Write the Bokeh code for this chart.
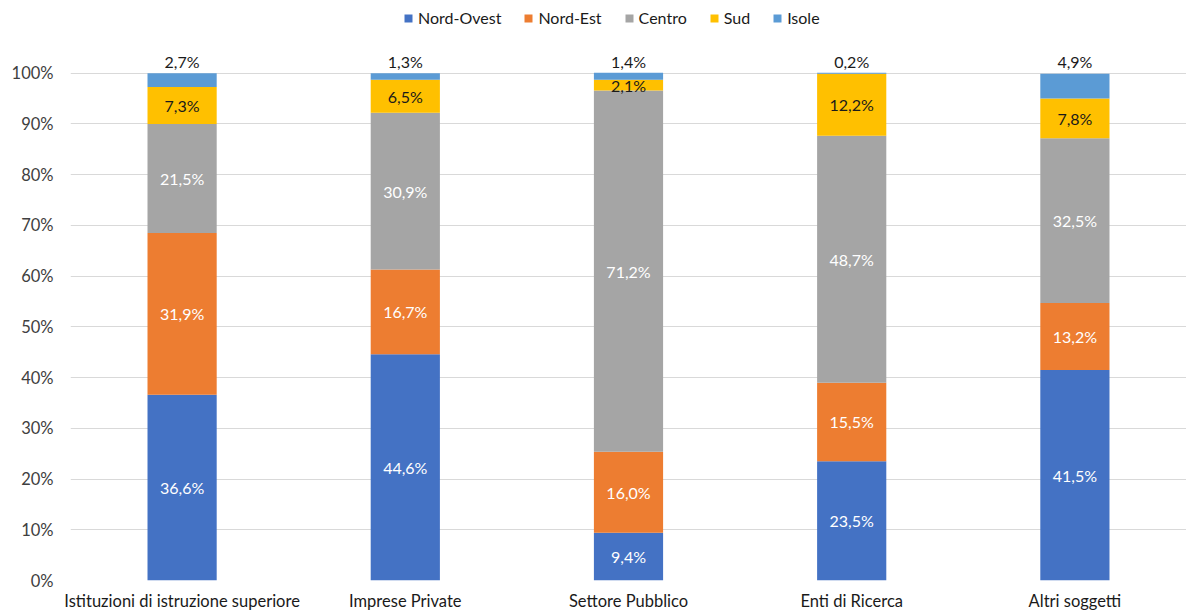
from bokeh.plotting import figure
from bokeh.models import ColumnDataSource, FixedTicker, NumeralTickFormatter
from bokeh.core.properties import value
from bokeh.embed import file_html
from bokeh.resources import INLINE

categories = ["Istituzioni di istruzione superiore", "Imprese Private",
              "Settore Pubblico", "Enti di Ricerca", "Altri soggetti"]
regions = ["Nord-Ovest", "Nord-Est", "Centro", "Sud", "Isole"]
nord_ovest = [36.6, 44.6, 9.4, 23.5, 41.5]
nord_est = [31.9, 16.7, 16.0, 15.5, 13.2]
centro = [21.5, 30.9, 71.2, 48.7, 32.5]
sud = [7.3, 6.5, 2.1, 12.2, 7.8]
isole = [2.7, 1.3, 1.4, 0.2, 4.9]
y_ticks = [0, 0.1, 0.2, 0.3, 0.4, 0.5, 0.6, 0.7, 0.8, 0.9, 1.0]

colors = ["#4472C4", "#ED7D31", "#A5A5A5", "#FFC000", "#5B9BD5"]
label_colors = ["white", "white", "white", "#1a1a1a", "#1a1a1a"]
FONT = "Lato"

series = [nord_ovest, nord_est, centro, sud, isole]
keys = ["s0", "s1", "s2", "s3", "s4"]
data = {"cat": categories}
for k, s in zip(keys, series):
    data[k] = [v / 100 for v in s]
src = ColumnDataSource(data)

p = figure(x_range=categories, y_range=(0, 1.1434), width=1186, height=613,
           output_backend="svg", toolbar_location=None,
           min_border_left=70, min_border_right=0, min_border_top=0,
           min_border_bottom=31)
p.outline_line_color = None
p.background_fill_color = "white"

p.vbar_stack(keys, x="cat", width=0.31, source=src, color=colors,
             line_color=None, legend_label=regions)

# data labels
bottom = [0.0] * len(categories)
for i, (k, s) in enumerate(zip(keys, series)):
    vals = [v / 100 for v in s]
    txt = [f"{v:.1f}".replace(".", ",") + "%" for v in s]
    if i < 4:
        ys = [b + v / 2 for b, v in zip(bottom, vals)]
        off = 0
    else:
        ys = [1.0] * len(categories)
        off = -12
    lsrc = ColumnDataSource(dict(cat=categories, y=ys, t=txt))
    p.text(x="cat", y="y", text="t", source=lsrc, text_align="center",
           text_baseline="middle", y_offset=off, text_color=label_colors[i],
           text_font=value(FONT), text_font_size="16px")
    bottom = [b + v for b, v in zip(bottom, vals)]

p.xgrid.grid_line_color = None
p.ygrid.ticker = FixedTicker(ticks=y_ticks)
p.ygrid.grid_line_color = "#D9D9D9"
p.ygrid.grid_line_width = 1

p.yaxis.ticker = FixedTicker(ticks=y_ticks)
p.yaxis.formatter = NumeralTickFormatter(format="0%")
p.yaxis.axis_line_color = None
p.yaxis.major_tick_line_color = None
p.yaxis.minor_tick_line_color = None
p.yaxis.major_tick_out = 0
p.yaxis.major_tick_in = 0
p.yaxis.major_label_text_font = FONT
p.yaxis.major_label_text_font_size = "16.5px"
p.yaxis.major_label_text_color = "#404040"
p.yaxis.major_label_standoff = 17

p.xaxis.axis_line_color = None
p.xaxis.major_tick_line_color = None
p.xaxis.minor_tick_line_color = None
p.xaxis.major_tick_out = 0
p.xaxis.major_tick_in = 0
p.xaxis.major_label_text_font = FONT
p.xaxis.major_label_text_font_size = "16.5px"
p.xaxis.major_label_text_color = "#1a1a1a"
p.xaxis.major_label_standoff = 10

lg = p.legend[0]
lg.location = (333, 553)
lg.orientation = "horizontal"
lg.border_line_color = None
lg.background_fill_alpha = 0
lg.label_text_font = FONT
lg.label_text_font_size = "16px"
lg.label_text_color = "#1a1a1a"
lg.glyph_width = 10
lg.glyph_height = 10
lg.label_standoff = 5
lg.spacing = 22
lg.padding = 2
lg.margin = 0

open("out.html", "w").write(file_html(p, INLINE))
